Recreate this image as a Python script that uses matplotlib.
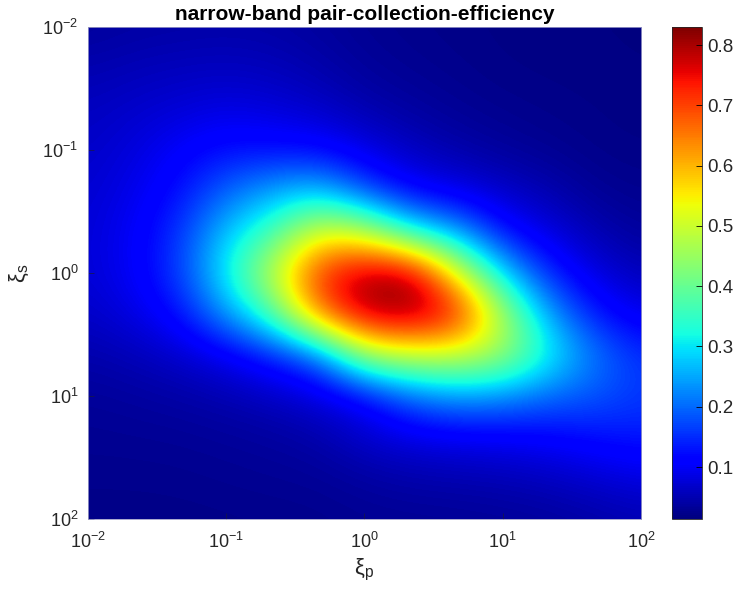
import numpy as np
import matplotlib
matplotlib.use('Agg')
import matplotlib.pyplot as plt

plt.rcParams['font.family'] = ['Liberation Sans', 'DejaVu Sans']

# log10 grid positions (xi_p along columns, xi_s along rows, top row = 1e-2)
log_xi_p = np.linspace(-2, 2, 13)
log_xi_s = np.linspace(-2, 2, 13)

# efficiency values, rows = xi_s (1e-2 -> 1e2), cols = xi_p (1e-2 -> 1e2)
eff = np.array([
    [0.035, 0.040, 0.042, 0.044, 0.042, 0.036, 0.028, 0.024, 0.021, 0.019, 0.018, 0.017, 0.016],
    [0.048, 0.054, 0.058, 0.060, 0.056, 0.046, 0.034, 0.028, 0.024, 0.020, 0.019, 0.018, 0.017],
    [0.060, 0.068, 0.076, 0.085, 0.078, 0.066, 0.048, 0.038, 0.030, 0.025, 0.022, 0.020, 0.018],
    [0.066, 0.080, 0.105, 0.125, 0.120, 0.115, 0.085, 0.060, 0.045, 0.035, 0.028, 0.022, 0.020],
    [0.072, 0.090, 0.125, 0.195, 0.245, 0.270, 0.170, 0.105, 0.085, 0.065, 0.048, 0.030, 0.025],
    [0.076, 0.100, 0.155, 0.275, 0.360, 0.520, 0.480, 0.310, 0.240, 0.120, 0.080, 0.050, 0.035],
    [0.076, 0.100, 0.165, 0.315, 0.490, 0.720, 0.800, 0.810, 0.520, 0.280, 0.140, 0.080, 0.055],
    [0.066, 0.085, 0.125, 0.240, 0.370, 0.660, 0.800, 0.820, 0.760, 0.460, 0.240, 0.130, 0.090],
    [0.046, 0.055, 0.070, 0.095, 0.140, 0.200, 0.460, 0.500, 0.500, 0.460, 0.320, 0.210, 0.150],
    [0.033, 0.037, 0.042, 0.050, 0.062, 0.080, 0.110, 0.200, 0.240, 0.230, 0.200, 0.185, 0.160],
    [0.028, 0.029, 0.030, 0.033, 0.037, 0.045, 0.070, 0.085, 0.095, 0.100, 0.110, 0.125, 0.135],
    [0.024, 0.024, 0.025, 0.027, 0.029, 0.031, 0.038, 0.045, 0.048, 0.052, 0.060, 0.072, 0.085],
    [0.021, 0.021, 0.021, 0.022, 0.023, 0.024, 0.028, 0.029, 0.030, 0.032, 0.035, 0.042, 0.050],
])

decades = [-2, -1, 0, 1, 2]
tick_labels = [r'$\mathregular{10^{%d}}$' % d for d in decades]
cbar_ticks = [0.1, 0.2, 0.3, 0.4, 0.5, 0.6, 0.7, 0.8]

vmin, vmax = 0.0137, 0.83
txt = '#262626'

fig = plt.figure(figsize=(7.38, 6.01), dpi=100)
ax = fig.add_axes([0.1192, 0.1364, 0.7494, 0.8187])
cax = fig.add_axes([0.9106, 0.1364, 0.0407, 0.8187])

hx = (log_xi_p[1] - log_xi_p[0]) / 2
hy = (log_xi_s[1] - log_xi_s[0]) / 2
im = ax.imshow(eff, cmap='jet', vmin=vmin, vmax=vmax, interpolation='bicubic',
               extent=[log_xi_p[0] - hx, log_xi_p[-1] + hx, log_xi_s[-1] + hy, log_xi_s[0] - hy],
               aspect='auto')
ax.set_xlim(-2, 2)
ax.set_ylim(2, -2)

ax.set_xticks(decades)
ax.set_xticklabels(tick_labels)
ax.set_yticks(decades)
ax.set_yticklabels(tick_labels)
ax.tick_params(direction='in', length=4, width=0.5, colors='#1a1a40', labelcolor=txt,
               labelsize=13)
ax.tick_params(axis='x', pad=9)
ax.tick_params(axis='y', pad=7)
for s in ax.spines.values():
    s.set_color('#9a9ac8')
    s.set_linewidth(0.6)

ax.set_title('narrow-band pair-collection-efficiency', fontsize=15, fontweight='bold', pad=5)
ax.set_xlabel(r'$\mathregular{\xi_p}$', fontsize=16, color=txt, labelpad=4)
ax.set_ylabel(r'$\mathregular{\xi_s}$', fontsize=16, color=txt, labelpad=8)

cb = fig.colorbar(im, cax=cax, ticks=cbar_ticks)
cb.ax.tick_params(direction='in', length=4, width=0.6, labelsize=13.5, labelcolor=txt, pad=4)
cb.outline.set_linewidth(0.6)
cb.outline.set_edgecolor('#262626')

fig.savefig('out.png', dpi=100)
